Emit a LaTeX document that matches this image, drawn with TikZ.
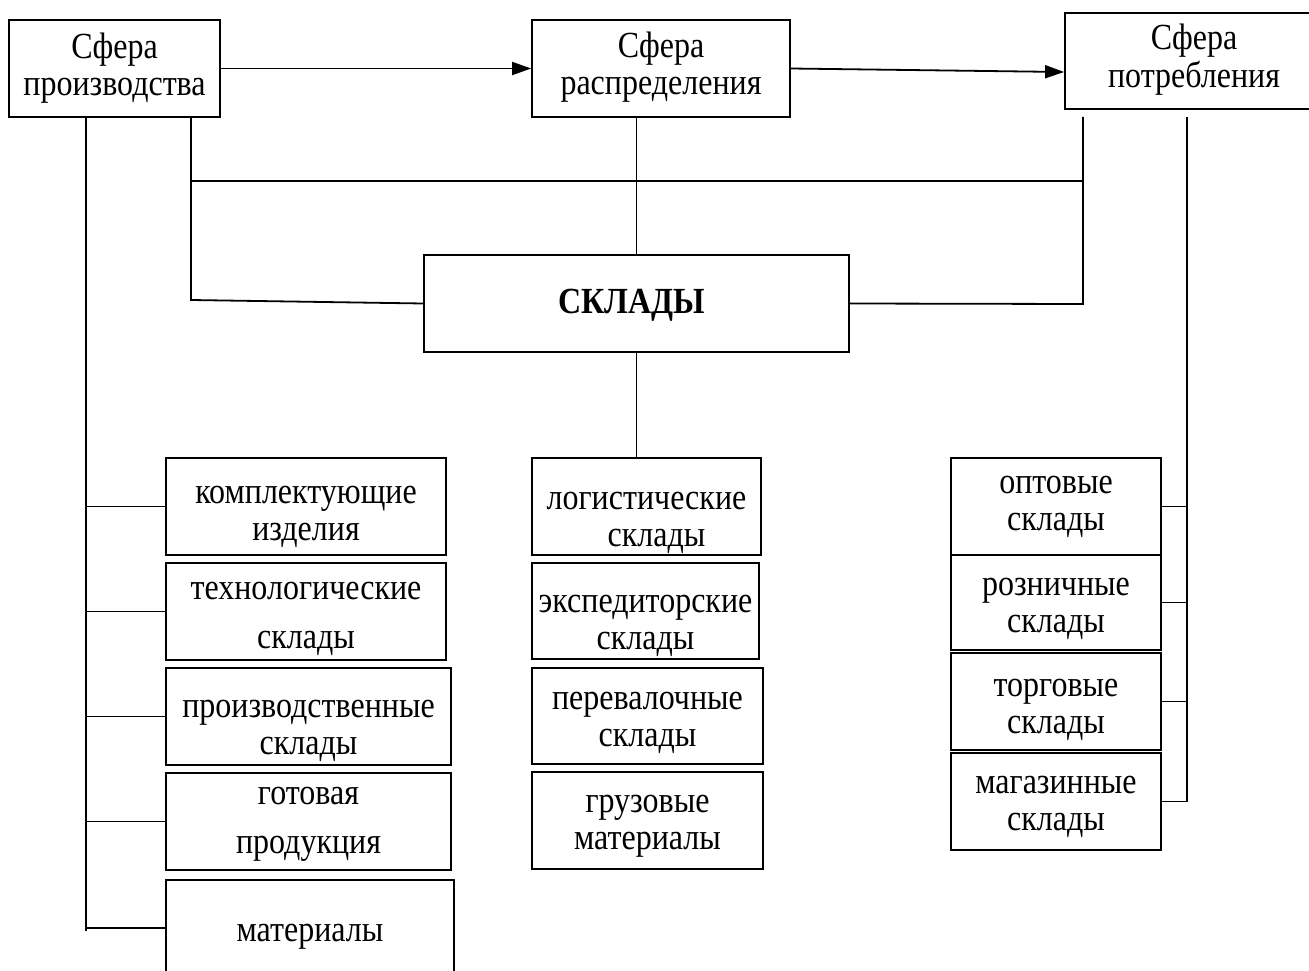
\documentclass[tikz,border=0pt]{standalone}
\usepackage{fontspec}
\usepackage{graphicx}
\setmainfont{Liberation Serif}
\usetikzlibrary{arrows.meta}
\newcommand{\vstr}[1]{\scalebox{1}[1.15]{\begin{tabular}{@{}c@{}}#1\end{tabular}}}
\newcommand{\bx}[7]{%
  \node[box, minimum width=#4pt, minimum height=#5pt] (#1) at (#2,#3) {};
  \node[txt] (#1-t) at ([yshift=-#6pt]#1.center) {\vstr{#7}};}
\begin{document}
\begin{tikzpicture}[x=1pt,y=-1pt,
  line width=1.8pt,
  box/.style={draw, inner sep=0pt},
  txt/.style={inner sep=0pt, font=\fontsize{32}{32}\selectfont},
  arr/.style={-{Triangle[length=19pt,width=13pt]}}]
\clip (0,0) rectangle (1309,971);
% top boxes
\bx{prod}{114.5}{68.5}{211}{97}{1.5}{Сфера\\производства}
\bx{dist}{661}{68.5}{258}{97}{0}{Сфера\\распределения}
\bx{cons}{1194}{61}{258}{96}{0}{Сфера\\потребления}
% central box
\node[box, minimum width=425pt, minimum height=97pt] (sk) at (636.5,303.5) {};
\node[txt, font=\fontsize{32}{32}\selectfont\bfseries] (sk-t) at ([xshift=-5pt,yshift=-3pt]sk.center) {\vstr{СКЛАДЫ}};
% left column
\bx{k1}{306}{506.5}{280}{97}{8.5}{комплектующие\\изделия}
\bx{k2}{306}{611.5}{280}{97}{5}{технологические\\[10pt]склады}
\bx{k3}{308.5}{716.5}{285}{97}{12}{производственные\\склады}
\bx{k4}{308.5}{821.5}{285}{97}{0}{готовая\\[10pt]продукция}
\bx{k5}{310}{928}{288}{96}{6}{материалы}
% middle column
\bx{m1}{646.5}{506.5}{229}{97}{14}{логистические\\\hspace*{20pt}склады}
\bx{m2}{645.5}{611}{227}{96}{12.5}{экспедиторские\\склады}
\bx{m3}{647.5}{716}{231}{96}{5}{перевалочные\\склады}
\bx{m4}{647.5}{820.5}{231}{97}{3.5}{грузовые\\материалы}
% right column
\bx{r1}{1056}{506.5}{210}{97}{-1.5}{оптовые\\склады}
\bx{r2}{1056}{602.5}{210}{95}{4}{розничные\\склады}
\bx{r3}{1056}{701.5}{210}{97}{6.5}{торговые\\склады}
\bx{r4}{1056}{801.5}{210}{97}{3.5}{магазинные\\склады}
% coordinates
\coordinate (L0) at (86,117);
\coordinate (L1) at (86,931);
\coordinate (P0) at (191,117);
\coordinate (P1) at (191,300);
\coordinate (H0) at (191,181);
\coordinate (H1) at (1083,181);
\coordinate (C0) at (1083,117);
\coordinate (C1) at (1083,304);
\coordinate (R0) at (1187,117);
\coordinate (R1) at (1187,801.5);
% arrows
\draw[arr] (prod.east) -- (dist.west);
\draw[arr] (dist.east) -- ([yshift=-11pt]cons.west);
% connectors
\draw (L0) -- (L1);
\foreach \n in {k1,k2,k3,k4,k5} \draw (L0 |- \n.west) -- (\n.west);
\draw (P0) -- (P1) -- (sk.west);
\draw (H0) -- (H1);
\draw (sk.north |- dist.south) -- (sk.north);
\draw (C0) -- (C1) -- (sk.east);
\draw (R0) -- (R1);
\foreach \n in {r1,r2,r3,r4} \draw (R0 |- \n.east) -- (\n.east);
\draw (sk.south) -- (sk.south |- m1.north);
\end{tikzpicture}
\end{document}
